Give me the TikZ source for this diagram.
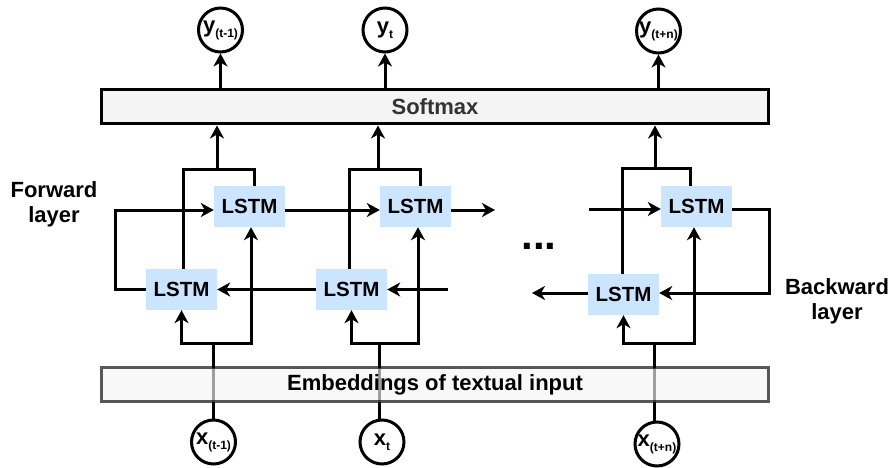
\documentclass[tikz,border=0pt]{standalone}
\usepackage{fontspec}
\setmainfont{Liberation Sans}
\usetikzlibrary{arrows.meta}
\definecolor{lstmblue}{HTML}{CCE5FF}
\definecolor{barfill}{HTML}{F4F4F4}
\definecolor{softtext}{HTML}{333333}
\newcommand{\ioText}[2]{{\fontsize{22}{22}\selectfont #1}\raisebox{-5pt}{\fontsize{12}{12}\selectfont #2}}
\begin{document}
\begin{tikzpicture}[x=1pt,y=-1pt,
  ln/.style={line width=3pt, draw=black},
  arr/.style={ln, -{Stealth[length=13pt,width=14pt,inset=4pt]}},
  lstm/.style={fill=lstmblue, minimum width=71pt, minimum height=41pt, inner sep=0pt,
    font=\fontsize{20.5}{20.5}\selectfont\bfseries},
  io/.style={circle, draw, line width=3pt, minimum size=44pt, inner sep=0pt, fill=white,
    font=\bfseries},
  bar/.style={draw, line width=3pt, minimum width=667pt, minimum height=34pt, inner sep=0pt,
    font=\fontsize{22}{22}\selectfont\bfseries},
  lbl/.style={align=center, font=\fontsize{22}{25}\selectfont\bfseries}]
\useasboundingbox (0,0) rectangle (892,468);

% output symbols
\node[io] (y1) at (220.5,30) {\ioText{y}{(t-1)}};
\node[io] (y2) at (385,30) {\ioText{y}{t}};
\node[io] (y3) at (658.5,31) {\ioText{y}{(t+n)}};

% input symbols
\node[io] (x1) at (213.5,442) {\ioText{x}{(t-1)}};
\node[io] (x2) at (382,442) {\ioText{x}{t}};
\node[io] (x3) at (657,444) {\ioText{x}{(t+n)}};

% softmax layer
\node[bar, fill=barfill, text=softtext] (soft) at (435,107) {Softmax};

% forward cells
\node[lstm] (f1) at (249.5,206.5) {LSTM};
\node[lstm] (f2) at (415.5,206.5) {LSTM};
\node[lstm] (f3) at (696.5,206.5) {LSTM};
% backward cells
\node[lstm] (b1) at (181.5,289.5) {LSTM};
\node[lstm] (b2) at (351.5,289.5) {LSTM};
\node[lstm] (b3) at (623.5,294.5) {LSTM};

% layer labels and gap marker
\node[lbl] (fwd) at (54,204) {Forward\\layer};
\node[lbl] (bwd) at (837,301) {Backward\\layer};
\node[font=\fontsize{42}{42}\selectfont\bfseries] (dots) at (539,246) {...};

% helper points
\coordinate (k1) at (213,343);
\coordinate (k2) at (379,343);
\coordinate (k3) at (654,343);
\coordinate (m1) at (217,170);
\coordinate (m2) at (378,170);
\coordinate (m3) at (655,169);
\coordinate (lc) at (115,250);
\coordinate (rc) at (769,250);
\coordinate (fe) at (495,210);
\coordinate (fs) at (589,209);
\coordinate (be) at (532,293);
\coordinate (bs) at (448,289.5);

% softmax to outputs
\draw[arr] (y1.south |- soft.north) -- (y1.south);
\draw[arr] (y2.south |- soft.north) -- (y2.south);
\draw[arr] (y3.south |- soft.north) -- (y3.south);

% merged states into softmax
\draw[ln] ([xshift=1.5pt]b1.north) |- (m1) -| ([xshift=4.5pt]f1.north);
\draw[ln] ([xshift=-2.5pt]b2.north) |- (m2) -| ([xshift=4.5pt]f2.north);
\draw[ln] ([xshift=-1.5pt]b3.north) |- (m3) -| ([xshift=-6.5pt]f3.north);
\draw[arr] (m1) -- (m1 |- soft.south);
\draw[arr] (m2) -- (m2 |- soft.south);
\draw[arr] (m3) -- (m3 |- soft.south);

% inputs fan out to both directions
\draw[ln] (k1 |- x1.north) -- (k1);
\draw[ln] (k2 |- x2.north) -- (k2);
\draw[ln] (k3 |- x3.north) -- (k3);
\draw[arr] (k1) -| (b1.south);
\draw[arr] (k1) -| ([xshift=1.5pt]f1.south);
\draw[arr] (k2) -| (b2.south);
\draw[arr] (k2) -| ([xshift=2.5pt]f2.south);
\draw[arr] (k3) -| (b3.south);
\draw[arr] (k3) -| ([xshift=-2.5pt]f3.south);

% forward recurrence
\draw[arr] (b1.west) -| (lc) |- ([yshift=-3.5pt]f1.west);
\draw[arr] ([yshift=-3.5pt]f1.east) -- ([yshift=-3.5pt]f2.west);
\draw[arr] ([yshift=-3.5pt]f2.east) -- (fe);
\draw[arr] (fs) -- ([yshift=-2.5pt]f3.west);

% backward recurrence
\draw[arr] ([yshift=-2.5pt]f3.east) -| (rc) |- ([yshift=1.5pt]b3.east);
\draw[arr] ([yshift=1.5pt]b3.west) -- (be);
\draw[arr] (bs) -- (b2.east);
\draw[arr] (b2.west) -- (b1.east);

% embedding layer, translucent over the input lines
\node[bar, fill=barfill, fill opacity=0.65, draw opacity=0.65, text opacity=1] (emb) at (435,384.5) {Embeddings of textual input};
\end{tikzpicture}
\end{document}
